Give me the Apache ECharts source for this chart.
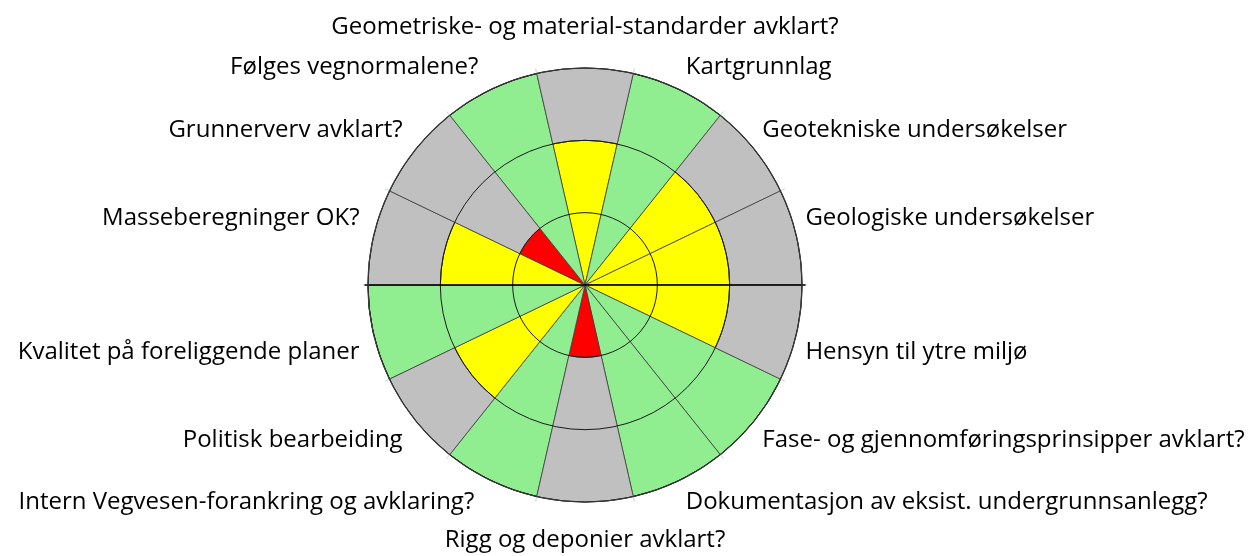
<!DOCTYPE html>
<html>
<head>
<meta charset="utf-8">
<script src="https://cdn.jsdelivr.net/npm/echarts@6/dist/echarts.min.js"></script>
<style>
  html, body { margin: 0; padding: 0; background: #fff; }
  #chart { width: 1249px; height: 556px; }
</style>
</head>
<body>
<div id="chart"></div>
<script>
// ---- data ----
const categories = [
  'Geometriske- og material-standarder avklart?',
  'Kartgrunnlag',
  'Geotekniske undersøkelser',
  'Geologiske undersøkelser',
  'Hensyn til ytre miljø',
  'Fase- og gjennomføringsprinsipper avklart?',
  'Dokumentasjon av eksist. undergrunnsanlegg?',
  'Rigg og deponier avklart?',
  'Intern Vegvesen-forankring og avklaring?',
  'Politisk bearbeiding',
  'Kvalitet på foreliggende planer',
  'Masseberegninger OK?',
  'Grunnerverv avklart?',
  'Følges vegnormalene?'
];
// status level of each item (1 = red, 2 = yellow, 3 = green)
const levels    = [2, 3, 2, 2, 2, 3, 3, 1, 3, 2, 3, 2, 1, 3];
// grey (not reached) part of each sector
const remainder = [1, 0, 1, 1, 1, 0, 0, 2, 0, 1, 0, 1, 2, 0];
const radiusMax = 3;

// ---- styles ----
const levelColors = { 1: '#FF0000', 2: '#FFFF00', 3: '#90EE90' };
const greyColor = '#C0C0C0';
// per-label padding [top, right, bottom, left] to mimic the original label placement
const labelPadding = [
  [0, 0, 45, 0], [0, 0, 10, 4], [0, 0, 8, 3], [0, 0, 35, 3],
  [35, 0, 0, 3], [8, 0, 0, 3], [8, 0, 0, 4], [41, 0, 0, 0],
  [8, 14, 0, 0], [8, 8, 0, 0], [35, 8, 0, 0], [0, 8, 35, 0],
  [0, 8, 8, 0], [0, 10, 10, 0]
];
const fontFamily = '"Open Sans", "Noto Sans", sans-serif';
const rich = {};
labelPadding.forEach(function (p, i) {
  rich['p' + i] = { padding: p, fontSize: 24, lineHeight: 24, color: '#000', fontFamily: fontFamily };
});

const center = [585, 285];
const R = 217;
const n = categories.length;

const chart = echarts.init(document.getElementById('chart'), null, { renderer: 'canvas' });
chart.setOption({
  animation: false,
  backgroundColor: '#fff',
  polar: [
    { center: center, radius: R },
    { center: center, radius: R + 3 },
    { center: center, radius: R + 3 }
  ],
  angleAxis: [
    {
      polarIndex: 0,
      type: 'category',
      data: categories,
      startAngle: 90 + 180 / n,
      clockwise: true,
      z: 6,
      axisLine: { show: true, lineStyle: { color: '#3a3a3a', width: 1.2 } },
      axisTick: { show: true, length: 5, lineStyle: { color: '#b9dcb9', width: 1 } },
      splitLine: { show: false },
      axisLabel: {
        show: true,
        margin: 6,
        interval: 0,
        formatter: function (value, index) { return '{p' + index + '|' + value + '}'; },
        rich: rich
      }
    },
    {
      polarIndex: 1, type: 'value', min: 0, max: 360, startAngle: 0,
      axisLine: { show: false }, axisTick: { show: false }, axisLabel: { show: false }, splitLine: { show: false }
    },
    {
      polarIndex: 2, type: 'value', min: 0, max: 360, startAngle: 180,
      axisLine: { show: false }, axisTick: { show: false }, axisLabel: { show: false }, splitLine: { show: false }
    }
  ],
  radiusAxis: [
    {
      polarIndex: 0,
      type: 'value',
      min: 0,
      max: radiusMax,
      interval: 1,
      z: 5,
      axisLine: { show: false },
      axisTick: { show: false },
      axisLabel: { show: false },
      splitLine: { show: true, lineStyle: { color: '#1a1a1a', width: 1 } }
    },
    {
      polarIndex: 1, type: 'value', min: 0, max: 1, z: 6,
      axisLine: { show: true, lineStyle: { color: '#000', width: 1.5 } },
      axisTick: { show: false }, axisLabel: { show: false }, splitLine: { show: false }
    },
    {
      polarIndex: 2, type: 'value', min: 0, max: 1, z: 6,
      axisLine: { show: true, lineStyle: { color: '#000', width: 1.5 } },
      axisTick: { show: false }, axisLabel: { show: false }, splitLine: { show: false }
    }
  ],
  series: [
    {
      name: 'Status',
      type: 'bar',
      coordinateSystem: 'polar',
      polarIndex: 0,
      stack: 'total',
      barCategoryGap: '0%',
      itemStyle: { borderColor: '#3c3c3c', borderWidth: 0.8 },
      data: levels.map(function (v) {
        return { value: v, itemStyle: { color: levelColors[v] } };
      })
    },
    {
      name: 'Rest',
      type: 'bar',
      coordinateSystem: 'polar',
      polarIndex: 0,
      stack: 'total',
      barCategoryGap: '0%',
      itemStyle: { color: greyColor, borderColor: '#3c3c3c', borderWidth: 0.8 },
      data: remainder
    }
  ]
});
</script>
</body>
</html>
